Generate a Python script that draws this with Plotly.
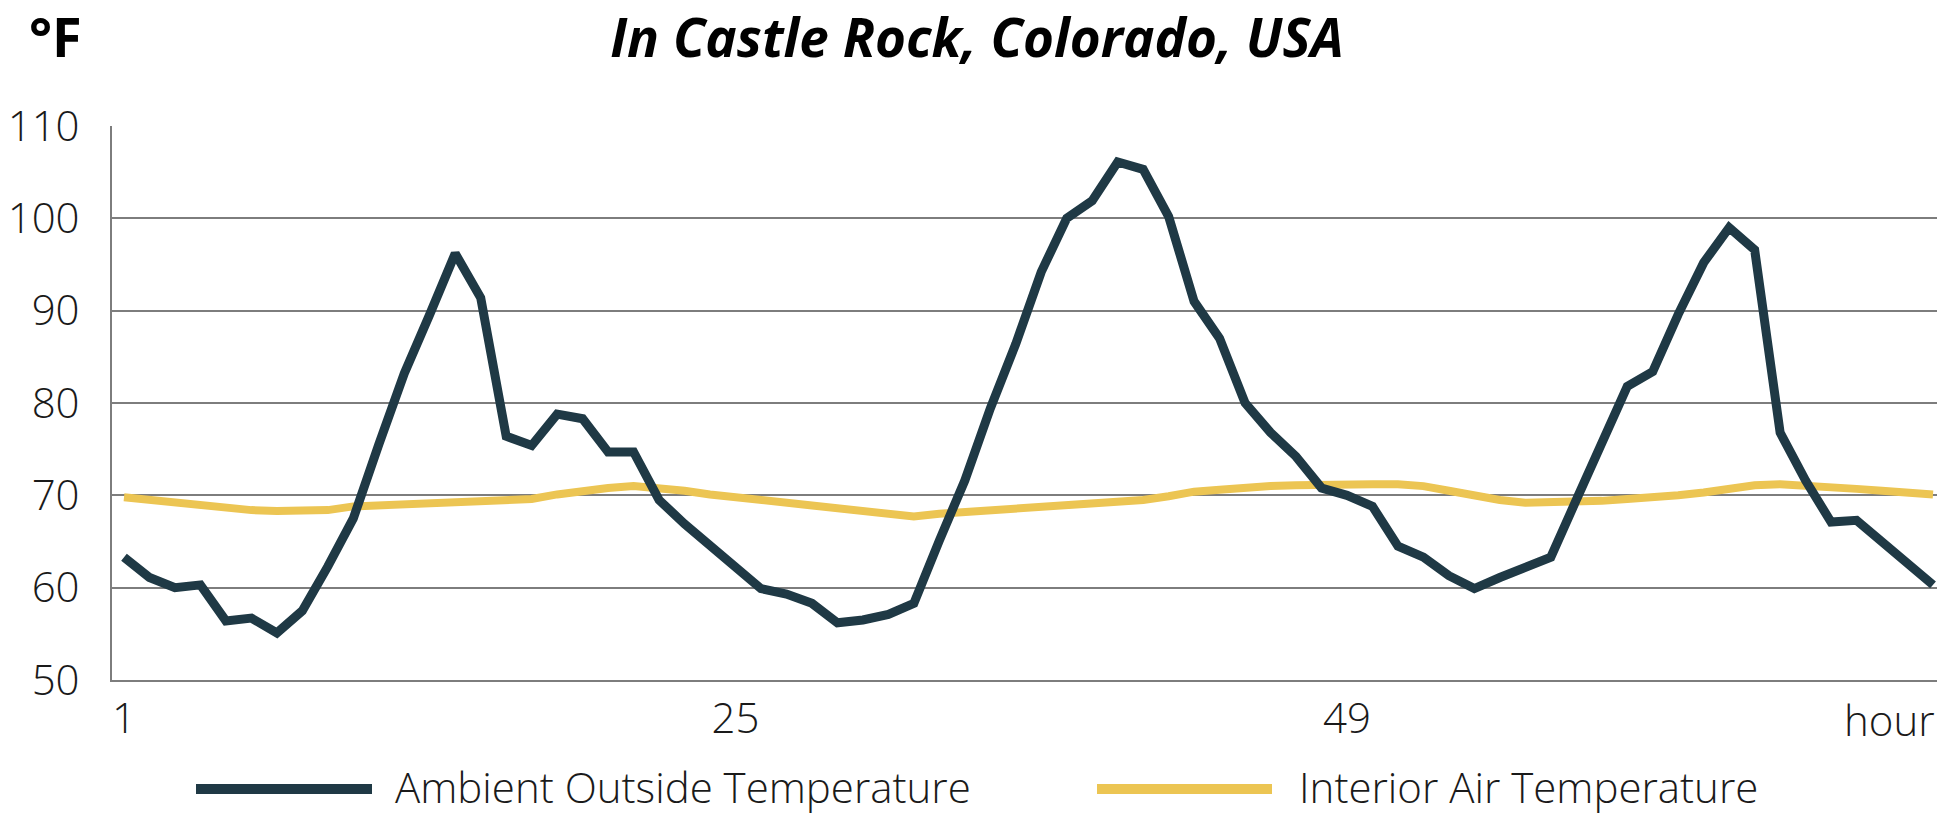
import plotly.graph_objects as go

# ---- data ----
hours = list(range(1, 73))
ambient = [63.3, 61.1, 60.0, 60.3, 56.4, 56.7, 55.1, 57.5, 62.3, 67.5,
           75.5, 83.2, 89.6, 96.2, 91.4, 76.4, 75.4, 78.8, 78.3, 74.7,
           74.7, 69.5, 66.9, 64.5, 62.2, 59.9, 59.3, 58.3, 56.2, 56.5,
           57.1, 58.3, 65.1, 71.6, 79.4, 86.4, 94.2, 100.0, 101.9, 106.1,
           105.3, 100.2, 91.0, 87.0, 80.0, 76.8, 74.2, 70.8, 70.0, 68.8,
           64.5, 63.3, 61.3, 59.9, 61.1, 62.1, 63.3, 69.5, 75.6, 81.8,
           83.4, 89.6, 95.2, 99.0, 96.6, 76.8, 71.6, 67.1, 67.3, 65.0,
           62.6, 60.3]
interior = [69.8, 69.5, 69.2, 68.9, 68.6, 68.4, 68.3, 68.3, 68.4, 68.8,
            68.9, 69.0, 69.1, 69.15, 69.25, 69.4, 69.6, 70.1, 70.5, 70.8,
            71.0, 70.8, 70.5, 70.1, 69.8, 69.5, 69.3, 69.0, 68.6, 68.2,
            67.9, 67.7, 68.0, 68.2, 68.4, 68.5, 68.6, 68.8, 69.0, 69.2,
            69.5, 69.9, 70.4, 70.6, 70.9, 71.0, 71.1, 71.2, 71.2, 71.2,
            71.2, 71.0, 70.5, 69.9, 69.5, 69.2, 69.2, 69.3, 69.4, 69.6,
            69.75, 70.0, 70.3, 70.7, 71.1, 71.2, 71.1, 70.9, 70.7, 70.5,
            70.3, 70.1]
x_tick_vals = [1, 25, 49]
x_tick_text = ["1", "25", "49"]
y_ticks = [50, 60, 70, 80, 90, 100, 110]
series_names = ["Ambient Outside Temperature", "Interior Air Temperature"]
title_text = "In Castle Rock, Colorado, USA"
unit_text = "°F"
x_end_label = "hour"

# ---- style / layout ----
W, H = 1955, 815
ML, MR, MT, MB = 112, 18, 126, 135
PW, PH = W - ML - MR, H - MT - MB
DARK = "#1f3945"
YELLOW = "#ecc553"
GRID = "#7d7d7d"
TXT = "#1a1a1a"
FONT = "Open Sans"


def px_x(p):  # page pixel -> paper
    return (p - ML) / PW


def px_y(p):
    return (H - MB - p) / PH


fig = go.Figure()
fig.add_trace(go.Scatter(x=hours, y=interior, mode="lines", name=series_names[1],
                         line=dict(color=YELLOW, width=8), showlegend=False))
fig.add_trace(go.Scatter(x=hours, y=ambient, mode="lines", name=series_names[0],
                         line=dict(color=DARK, width=9), showlegend=False))

# custom legend (long swatches as in the reference)
legend_items = [(196, 372, 393, DARK, series_names[0]),
                (1097, 1272, 1297, YELLOW, series_names[1])]
for x0, x1, tx, col, name in legend_items:
    fig.add_shape(type="line", xref="paper", yref="paper",
                  x0=px_x(x0), x1=px_x(x1), y0=px_y(789), y1=px_y(789),
                  line=dict(color=col, width=10))
    fig.add_annotation(xref="paper", yref="paper", x=px_x(tx), y=px_y(786),
                       xanchor="left", yanchor="middle", showarrow=False,
                       text=name, font=dict(family=FONT, size=42, color=TXT, weight=300))

fig.add_annotation(xref="paper", yref="paper", x=px_x(84), y=px_y(36),
                   xanchor="right", yanchor="middle", showarrow=False,
                   text=unit_text, font=dict(family=FONT, size=54, color="#000", weight=700))
fig.add_annotation(xref="paper", yref="paper", x=1, y=px_y(719),
                   xanchor="right", yanchor="middle", showarrow=False,
                   text=x_end_label, font=dict(family=FONT, size=42, color=TXT, weight=300))

fig.update_layout(
    width=W, height=H,
    margin=dict(l=ML, r=MR, t=MT, b=MB, autoexpand=False),
    paper_bgcolor="white", plot_bgcolor="white",
    title=dict(text=title_text, x=977 / W, xref="container", xanchor="center",
               y=1 - 38 / H, yref="container", yanchor="middle",
               font=dict(family=FONT, size=53, color="#000", weight=700, style="italic")),
    xaxis=dict(range=[1 - 12 / 25.48, 72 + 4 / 25.48], tickvals=x_tick_vals, ticktext=x_tick_text,
               showgrid=False, zeroline=False, showline=True, linecolor=GRID, linewidth=2,
               ticks="", ticklabelstandoff=1, automargin=False,
               tickfont=dict(family=FONT, size=42, color=TXT, weight=300)),
    yaxis=dict(range=[50, 110], tickvals=y_ticks, showgrid=True, gridcolor=GRID, gridwidth=2,
               zeroline=False, showline=True, linecolor=GRID, linewidth=2,
               ticks="", ticklabelstandoff=22, automargin=False,
               tickfont=dict(family=FONT, size=42, color=TXT, weight=300)),
)

fig.write_html("out.html", config={"displayModeBar": False},
               post_script="document.body.style.margin='0px';")
